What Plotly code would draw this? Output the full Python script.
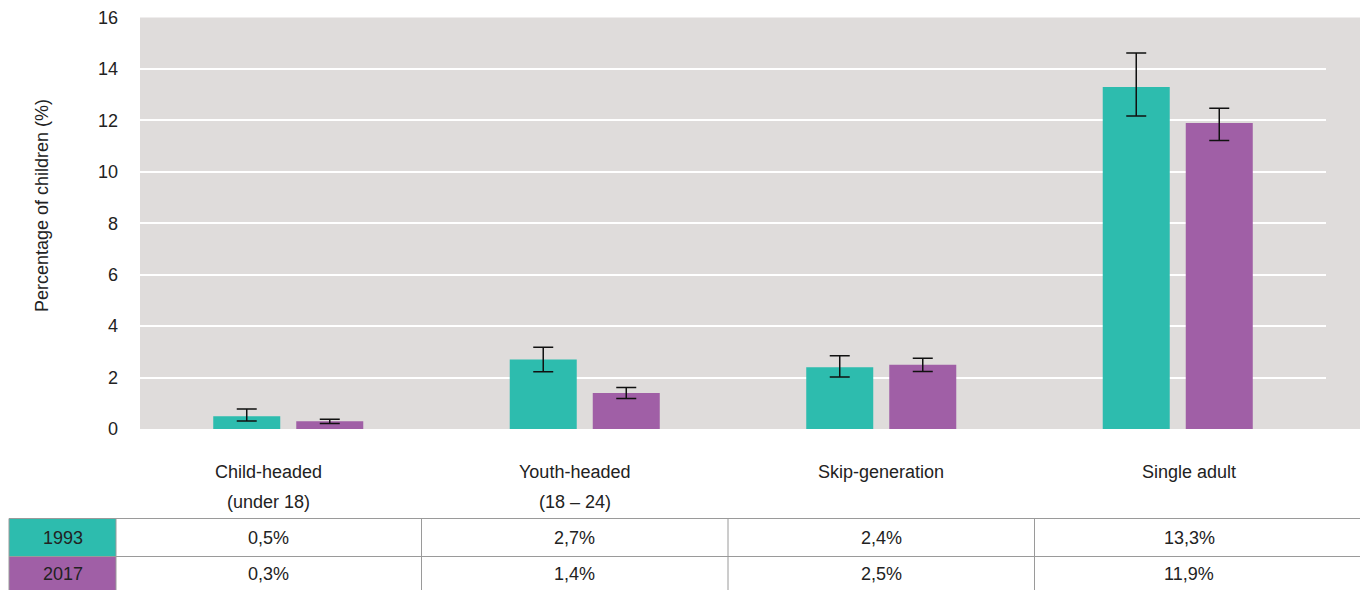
import plotly.graph_objects as go

# ---- data ----
categories = ["Child-headed", "Youth-headed", "Skip-generation", "Single adult"]
cat_line1 = ["Child-headed", "Youth-headed", "Skip-generation", "Single adult"]
cat_line2 = ["(under 18)", "(18 – 24)", "", ""]
series_names = ["1993", "2017"]
values_1993 = [0.5, 2.7, 2.4, 13.3]
values_2017 = [0.3, 1.4, 2.5, 11.9]
ci_high_1993 = [0.78, 3.18, 2.85, 14.62]
ci_low_1993 = [0.31, 2.23, 2.02, 12.17]
ci_high_2017 = [0.38, 1.61, 2.75, 12.47]
ci_low_2017 = [0.21, 1.19, 2.24, 11.22]
y_ticks = [0, 2, 4, 6, 8, 10, 12, 14, 16]

# ---- style ----
W, H = 1360, 590
TEAL = "#2dbcae"
PURPLE = "#a05fa6"
BG = "#dfdcdb"
TXT = "#222222"
GRID_LINE = "#9a9a9a"
FONT = "Liberation Sans, Arial, sans-serif"

def px2x(px):
    return px / W

def py2y(py):
    return 1 - py / H

PLOT_L, PLOT_R, PLOT_T, PLOT_B = 140, 1326, 17.5, 429

fig = go.Figure()
for name, vals, hi, lo, col in [
    (series_names[0], values_1993, ci_high_1993, ci_low_1993, TEAL),
    (series_names[1], values_2017, ci_high_2017, ci_low_2017, PURPLE),
]:
    fig.add_trace(go.Bar(
        x=categories, y=vals, name=name,
        marker=dict(color=col, line=dict(width=0)),
        error_y=dict(
            type="data", symmetric=False,
            array=[h - v for h, v in zip(hi, vals)],
            arrayminus=[v - l for l, v in zip(lo, vals)],
            color="#111111", thickness=1.5, width=10,
        ),
        showlegend=False,
        hoverinfo="skip",
    ))

shapes = []
# background extension to the right of the plot area
shapes.append(dict(type="rect", xref="paper", yref="paper",
                   x0=px2x(PLOT_R), x1=1, y0=py2y(PLOT_B), y1=py2y(PLOT_T),
                   fillcolor=BG, line=dict(width=0), layer="below"))

# table
T_TOP, T_MID, T_BOT = 518.5, 556.5, 592
T_LEFT, T_LABEL_R = 9, 116
col_dividers = [421.5, 728, 1034.5]
col_centers = [268.5, 574.5, 881, 1189]
row_colors = [TEAL, PURPLE]
for i, (y0, y1) in enumerate([(T_TOP, T_MID), (T_MID, T_BOT)]):
    shapes.append(dict(type="rect", xref="paper", yref="paper",
                       x0=px2x(T_LEFT), x1=px2x(T_LABEL_R), y0=py2y(y1), y1=py2y(y0),
                       fillcolor=row_colors[i], line=dict(width=0)))
for yy in [T_TOP, T_MID]:
    shapes.append(dict(type="line", xref="paper", yref="paper",
                       x0=px2x(T_LEFT), x1=1, y0=py2y(yy), y1=py2y(yy),
                       line=dict(color=GRID_LINE, width=1)))
for xx in [T_LEFT, T_LABEL_R] + col_dividers:
    shapes.append(dict(type="line", xref="paper", yref="paper",
                       x0=px2x(xx), x1=px2x(xx), y0=py2y(T_TOP), y1=0,
                       line=dict(color=GRID_LINE, width=1)))

def ann(text, px, py, size=18, angle=0):
    return dict(text=text, xref="paper", yref="paper", x=px2x(px), y=py2y(py),
                xanchor="center", yanchor="middle", textangle=angle, showarrow=False,
                font=dict(size=size, color=TXT, family=FONT))

annotations = []
# y axis title
annotations.append(ann("Percentage of children (%)", 42, 206, size=18, angle=-90))
# category labels
for cx, l1, l2 in zip(col_centers, cat_line1, cat_line2):
    annotations.append(ann(l1, cx, 472))
    if l2:
        annotations.append(ann(l2, cx, 502))

def fmt(v):
    return f"{v:.1f}".replace(".", ",") + "%"

row_mids = [(T_TOP + T_MID) / 2, (T_MID + 590) / 2 + 1]
for ri, (name, vals) in enumerate([(series_names[0], values_1993), (series_names[1], values_2017)]):
    annotations.append(ann(name, (T_LEFT + T_LABEL_R) / 2, row_mids[ri]))
    for cx, v in zip(col_centers, vals):
        annotations.append(ann(fmt(v), cx, row_mids[ri]))

fig.update_layout(
    width=W, height=H,
    margin=dict(l=0, r=0, t=0, b=0, pad=0),
    paper_bgcolor="white",
    plot_bgcolor=BG,
    barmode="group",
    bargap=0.44,
    bargroupgap=0.193,
    font=dict(family=FONT, color=TXT),
    xaxis=dict(domain=[px2x(PLOT_L), px2x(PLOT_R)], showticklabels=False,
               showgrid=False, zeroline=False, showline=False, fixedrange=True,
               automargin=False),
    yaxis=dict(domain=[py2y(PLOT_B), py2y(PLOT_T)], range=[0, 16],
               tickvals=y_ticks, ticktext=[str(t) for t in y_ticks],
               showgrid=True, gridcolor="white", gridwidth=1.5,
               zeroline=False, showline=False, automargin=False,
               tickfont=dict(size=18, color=TXT, family=FONT),
               ticklabelstandoff=21),
    shapes=shapes,
    annotations=annotations,
)

fig.write_html(
    "out.html",
    config={"displayModeBar": False},
    post_script="document.body.style.margin='0';document.body.style.overflow='hidden';",
)
